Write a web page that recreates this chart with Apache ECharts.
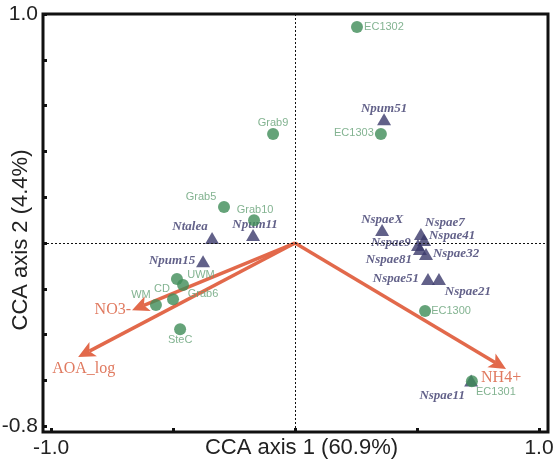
<!DOCTYPE html>
<html>
<head>
<meta charset="utf-8">
<script src="https://cdn.jsdelivr.net/npm/echarts@6/dist/echarts.min.js"></script>
<style>html,body{margin:0;padding:0;background:#fff}#c{width:560px;height:468px}</style>
</head>
<body>
<div id="c"></div>
<script>
// ---- data ----
const siteNames = ['EC1302','Grab9','EC1303','Grab5','Grab10','CD','UWM','Grab6','WM','SteC','EC1300','EC1301'];
const siteX = [0.254,-0.090,0.352,-0.291,-0.168,-0.484,-0.459,-0.500,-0.570,-0.471,0.533,0.725];
const siteY = [0.943,0.476,0.476,0.157,0.100,-0.157,-0.183,-0.245,-0.271,-0.376,-0.297,-0.603];

const speciesNames = ['Npum51','Ntalea','Npum11','Npum15','NspaeX','Nspae7','Nspae41','Nspae9','Nspae81','Nspae32','Nspae51','Nspae21','Nspae11'];
const speciesX = [0.365,-0.340,-0.172,-0.377,0.357,0.516,0.529,0.504,0.512,0.537,0.545,0.590,0.722];
const speciesY = [0.541,0.022,0.035,-0.079,0.057,0.039,0.013,-0.009,-0.026,-0.048,-0.157,-0.157,-0.600];

const envNames = ['NO3-','AOA_log','NH4+'];
const envX = [-0.668,-0.889,0.865];
const envY = [-0.293,-0.498,-0.550];

const xTicks = [-1.0,-0.5,0,0.5,1.0];
const xTickLabels = [-1.0,1.0];
const yTicks = [-0.8,-0.6,-0.4,-0.2,0,0.2,0.4,0.6,0.8,1.0];
const yTickLabels = [-0.8,1.0];

// ---- label layout (pixel offsets of label centre from the mark) ----
const siteLabelOffset = {
  EC1302:[27,0], Grab9:[0,-11], EC1303:[-27,-1], Grab5:[-23,-10], Grab10:[1,-10],
  CD:[-15,10], UWM:[18,-10], Grab6:[30,-5], WM:[-15,-10], SteC:[0,11],
  EC1300:[26,0], EC1301:[24,11]
};
const speciesLabelOffset = {
  Npum51:[0,-10], Ntalea:[-22,-11], Npum11:[2,-10], Npum15:[-31,0], NspaeX:[0,-10],
  Nspae7:[24,-11], Nspae41:[28,-4], Nspae9:[-27,-2], Nspae81:[-31,11], Nspae32:[30,0],
  Nspae51:[-32,0], Nspae21:[29,13], Nspae11:[-29,15]
};
const envLabelLayout = {
  'NO3-':{dx:-1, dy:0, align:'right'},
  'AOA_log':{dx:-26, dy:12, align:'left'},
  'NH4+':{dx:-25, dy:9, align:'left'}
};

const SITE_COLOR = '#3f8c58';
const SITE_TEXT = '#64a076';
const SPEC_COLOR = '#3b3a6c';
const ENV_COLOR = '#e2694b';
const ENV_TEXT = '#e07a60';

const siteData = siteNames.map((n,i)=>({
  name:n, value:[siteX[i], siteY[i]],
  label:{offset:siteLabelOffset[n]}
}));
const speciesData = speciesNames.map((n,i)=>({
  name:n, value:[speciesX[i], speciesY[i]],
  label:{offset:speciesLabelOffset[n]}
}));
const envData = envNames.map((n,i)=>[envX[i], envY[i], n]);

const chart = echarts.init(document.getElementById('c'), null, {renderer:'canvas'});
const tickFont = {fontFamily:'Liberation Sans', fontSize:21, color:'#222'};
const nameFont = {fontFamily:'Liberation Sans', fontSize:22, color:'#222', padding:[0,0,0,12]};

chart.setOption({
  animation:false,
  backgroundColor:'#fff',
  grid:{left:43, top:14, width:505, height:418, show:true, borderColor:'#111', borderWidth:3,
        backgroundColor:'transparent', outerBoundsMode:'none', containLabel:false},
  xAxis:{
    type:'value', min:-1.033, max:1.037,
    axisLine:{show:false, onZero:false},
    splitLine:{show:false},
    axisTick:{show:true, inside:true, length:4, lineStyle:{color:'#111', width:3}, customValues:xTicks},
    axisLabel:Object.assign({margin:6, customValues:xTickLabels, formatter:v=>v.toFixed(1)}, tickFont),
    name:'CCA axis 1 (60.9%)', nameLocation:'middle', nameGap:5, nameMoveOverlap:false,
    nameTextStyle:nameFont
  },
  yAxis:{
    type:'value', min:-0.825, max:1.0,
    axisLine:{show:false, onZero:false},
    splitLine:{show:false},
    axisTick:{show:true, inside:true, length:4, lineStyle:{color:'#111', width:3}, customValues:yTicks},
    axisLabel:Object.assign({margin:5, customValues:yTickLabels, formatter:v=>v.toFixed(1)}, tickFont)
  },
  graphic:[{
    type:'text', x:21, y:240, rotation:Math.PI/2,
    style:{text:'CCA axis 2 (4.4%)', font:'22px "Liberation Sans"', fill:'#222', align:'center', verticalAlign:'middle'}
  }],
  series:[
    {
      type:'line', data:[], silent:true,
      markLine:{
        silent:true, symbol:['none','none'], label:{show:false},
        lineStyle:{color:'#111', type:[2,2], width:1},
        data:[{xAxis:0},{yAxis:0}]
      }
    },
    {
      type:'custom', silent:true, z:3,
      data:envData,
      renderItem:function(params, api){
        const p0 = api.coord([0,0]);
        const p1 = api.coord([api.value(0), api.value(1)]);
        const name = envNames[params.dataIndex];
        const dx = p1[0]-p0[0], dy = p1[1]-p0[1];
        const len = Math.sqrt(dx*dx+dy*dy);
        const ux = dx/len, uy = dy/len, nx = -uy, ny = ux;
        const hl = 17, hw = 8;
        const bx = p1[0]-ux*hl, by = p1[1]-uy*hl;
        const nxp = p1[0]-ux*hl*0.75, nyp = p1[1]-uy*hl*0.75;
        const lay = envLabelLayout[name];
        return {type:'group', children:[
          {type:'line', shape:{x1:p0[0], y1:p0[1], x2:nxp, y2:nyp},
           style:{stroke:ENV_COLOR, lineWidth:3.5}},
          {type:'polygon', shape:{points:[[p1[0],p1[1]],[bx+nx*hw,by+ny*hw],[nxp,nyp],[bx-nx*hw,by-ny*hw]]},
           style:{fill:ENV_COLOR}},
          {type:'text', x:p1[0]+lay.dx, y:p1[1]+lay.dy,
           style:{text:name, font:'16px "Liberation Serif"', fill:ENV_TEXT, align:lay.align, verticalAlign:'middle'}}
        ]};
      }
    },
    {
      type:'scatter', z:4, symbol:'triangle', symbolSize:[14,12],
      itemStyle:{color:SPEC_COLOR},
      label:{show:true, position:'inside', formatter:'{b}', fontFamily:'Liberation Serif',
        fontStyle:'italic', fontWeight:'bold', fontSize:13, color:SPEC_COLOR},
      data:speciesData
    },
    {
      type:'scatter', z:5, symbol:'circle', symbolSize:12,
      itemStyle:{color:SITE_COLOR},
      label:{show:true, position:'inside', formatter:'{b}', fontFamily:'Liberation Sans',
        fontSize:11, color:SITE_TEXT},
      data:siteData
    }
  ]
});
</script>
</body>
</html>
